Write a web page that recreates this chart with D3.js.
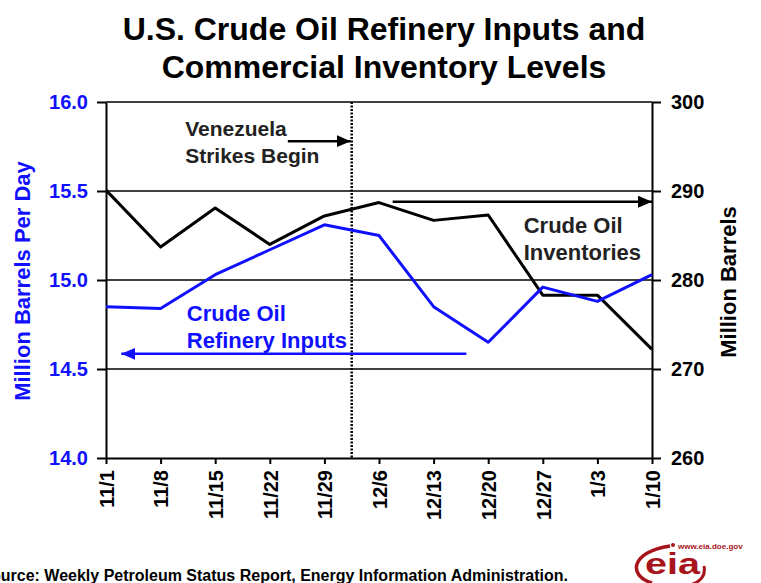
<!DOCTYPE html>
<html>
<head>
<meta charset="utf-8">
<script src="https://cdn.jsdelivr.net/npm/d3@7"></script>
<style>
  body { margin: 0; background: #fff; }
  svg { display: block; font-family: Arial, "Liberation Sans", sans-serif; }
</style>
</head>
<body>
<div id="canvas"></div>
<script>
// data
var weeks = ['11/1','11/8','11/15','11/22','11/29','12/6','12/13','12/20','12/27','1/3','1/10'];
var refineryInputs = [14.85, 14.84, 15.03, 15.17, 15.31, 15.25, 14.85, 14.65, 14.96, 14.88, 15.03];
var inventories = [290.1, 283.7, 288.1, 284.0, 287.2, 288.7, 286.7, 287.3, 278.3, 278.3, 272.2];
var leftTicks = [14.0, 14.5, 15.0, 15.5, 16.0];
var rightTicks = [260, 270, 280, 290, 300];

var W = 761, H = 583;
var m = {t:102, r:109, b:125, l:106};
var w = W - m.l - m.r,
    h = H - m.t - m.b;

var blue = '#1010ff', red = '#a8141c';

var svg = d3.select('#canvas')
    .append('svg')
    .attr('width', W)
    .attr('height', H);

var defs = svg.append('defs');
function head(id, color){
  defs.append('marker')
      .attr('id', id)
      .attr('markerUnits', 'userSpaceOnUse')
      .attr('viewBox', '0 0 14 12')
      .attr('refX', 14).attr('refY', 6)
      .attr('markerWidth', 14).attr('markerHeight', 12)
      .attr('orient', 'auto')
      .append('path')
      .attr('d', 'M0,0 L14,6 L0,12 Z')
      .attr('fill', color);
}
head('ahBlack', '#000');
head('ahBlue', blue);

// title
var title = svg.append('text')
    .attr('x', 384).attr('y', 40)
    .attr('text-anchor', 'middle')
    .style('font-size', '32px').style('font-weight', 'bold');
title.append('tspan').attr('x', 384).text('U.S. Crude Oil Refinery Inputs and');
title.append('tspan').attr('x', 384).attr('y', 78).text('Commercial Inventory Levels');

var plot = svg.append('g')
    .attr('transform', 'translate(' + m.l + ',' + m.t + ')');

// scales
var x = d3.scaleLinear().domain([0, weeks.length - 1]).range([0, w]);
var yL = d3.scaleLinear().domain([14, 16]).range([h, 0]);
var yR = d3.scaleLinear().domain([260, 300]).range([h, 0]);

// gridlines
plot.selectAll('.grid')
    .data(leftTicks.slice(1))
    .enter()
    .append('line')
    .attr('class', 'grid')
    .attr('x1', 0).attr('x2', w)
    .attr('y1', function(d){ return yL(d); })
    .attr('y2', function(d){ return yL(d); })
    .attr('stroke', '#000')
    .attr('stroke-width', 1.6);

// strike start marker between 11/29 and 12/6
plot.append('line')
    .attr('x1', x(4.5)).attr('x2', x(4.5))
    .attr('y1', 0).attr('y2', h)
    .attr('stroke', '#000')
    .attr('stroke-width', 2.5)
    .attr('stroke-dasharray', '2,1.5');

// axes
var axisL = d3.axisLeft(yL)
    .tickValues(leftTicks)
    .tickFormat(d3.format('.1f'))
    .tickSize(9).tickSizeOuter(0).tickPadding(9);
var gL = plot.append('g').call(axisL);
gL.selectAll('text').attr('fill', blue);

var axisR = d3.axisRight(yR)
    .tickValues(rightTicks)
    .tickSize(9).tickSizeOuter(0).tickPadding(10);
var gR = plot.append('g').attr('transform', 'translate(' + w + ',0)').call(axisR);

var axisX = d3.axisBottom(x)
    .tickValues(d3.range(weeks.length))
    .tickFormat(function(i){ return weeks[i]; })
    .tickSize(6).tickSizeOuter(0);
var gX = plot.append('g').attr('transform', 'translate(0,' + h + ')').call(axisX);
gX.selectAll('text')
    .attr('transform', 'rotate(-90)')
    .attr('x', -12).attr('y', 0).attr('dy', '0.36em')
    .style('text-anchor', 'end');

[gL, gR, gX].forEach(function(g){
  g.selectAll('path, line').attr('stroke', '#000').attr('stroke-width', 2);
  g.selectAll('text').style('font-size', '20px').style('font-weight', 'bold');
  g.attr('font-family', null);
});

// series
var lineR = d3.line()
    .x(function(d, i){ return x(i); })
    .y(function(d){ return yR(d); });
var lineL = d3.line()
    .x(function(d, i){ return x(i); })
    .y(function(d){ return yL(d); });

plot.append('path')
    .datum(inventories)
    .attr('d', lineR)
    .attr('fill', 'none')
    .attr('stroke', '#000')
    .attr('stroke-width', 3)
    .attr('stroke-linejoin', 'round');

plot.append('path')
    .datum(refineryInputs)
    .attr('d', lineL)
    .attr('fill', 'none')
    .attr('stroke', blue)
    .attr('stroke-width', 3)
    .attr('stroke-linejoin', 'round');

// annotations
var ven = plot.append('text')
    .style('font-size', '21px').style('font-weight', 'bold').attr('fill', '#222');
ven.append('tspan').attr('x', x(1.45)).attr('y', yL(15.81)).text('Venezuela');
ven.append('tspan').attr('x', x(1.45)).attr('y', yL(15.66)).text('Strikes Begin');
plot.append('line')
    .attr('x1', x(3.33)).attr('x2', x(4.5) - 1)
    .attr('y1', yL(15.78)).attr('y2', yL(15.78))
    .attr('stroke', '#000').attr('stroke-width', 2.5)
    .attr('marker-end', 'url(#ahBlack)');

var inv = plot.append('text')
    .style('font-size', '22px').style('font-weight', 'bold').attr('fill', '#222');
inv.append('tspan').attr('x', x(7.65)).attr('y', yR(285.3)).text('Crude Oil');
inv.append('tspan').attr('x', x(7.65)).attr('y', yR(282.2)).text('Inventories');
plot.append('line')
    .attr('x1', x(5.25)).attr('x2', w)
    .attr('y1', yR(288.8)).attr('y2', yR(288.8))
    .attr('stroke', '#000').attr('stroke-width', 2.5)
    .attr('marker-end', 'url(#ahBlack)');

var ref = plot.append('text')
    .style('font-size', '22px').style('font-weight', 'bold').attr('fill', blue);
ref.append('tspan').attr('x', x(1.48)).attr('y', yL(14.77)).text('Crude Oil');
ref.append('tspan').attr('x', x(1.48)).attr('y', yL(14.62)).text('Refinery Inputs');
plot.append('line')
    .attr('x1', x(6.6)).attr('x2', x(0.28))
    .attr('y1', yL(14.585)).attr('y2', yL(14.585))
    .attr('stroke', blue).attr('stroke-width', 2.5)
    .attr('marker-end', 'url(#ahBlue)');

// axis titles
svg.append('text')
    .attr('transform', 'translate(30,281) rotate(-90)')
    .attr('text-anchor', 'middle')
    .style('font-size', '22px').style('font-weight', 'bold')
    .attr('fill', blue)
    .text('Million Barrels Per Day');

svg.append('text')
    .attr('transform', 'translate(736,282) rotate(-90)')
    .attr('text-anchor', 'middle')
    .style('font-size', '22px').style('font-weight', 'bold')
    .text('Million Barrels');

// source line, runs off the left edge like the original
svg.append('text')
    .attr('x', 568).attr('y', 581)
    .attr('text-anchor', 'end')
    .style('font-size', '16px').style('font-weight', 'bold')
    .text('Source: Weekly Petroleum Status Report, Energy Information Administration.');

// eia logo
var logo = svg.append('g');
logo.append('path')
    .attr('d', 'M652,583 C628,576 630,552 670,546')
    .attr('fill', 'none').attr('stroke', red).attr('stroke-width', 3.5);
logo.append('circle').attr('cx', 673).attr('cy', 545).attr('r', 2).attr('fill', red);
logo.append('path')
    .attr('d', 'M704,566 C706,576 700,582 690,585')
    .attr('fill', 'none').attr('stroke', red).attr('stroke-width', 3);
logo.append('text')
    .attr('x', 645).attr('y', 574)
    .attr('textLength', 55).attr('lengthAdjust', 'spacingAndGlyphs')
    .style('font-size', '30px').style('font-weight', 'bold')
    .attr('fill', red)
    .text('eia');
logo.append('text')
    .attr('x', 678).attr('y', 549)
    .style('font-size', '8px').style('font-weight', 'bold')
    .attr('fill', red)
    .text('www.eia.doe.gov');
</script>
</body>
</html>
